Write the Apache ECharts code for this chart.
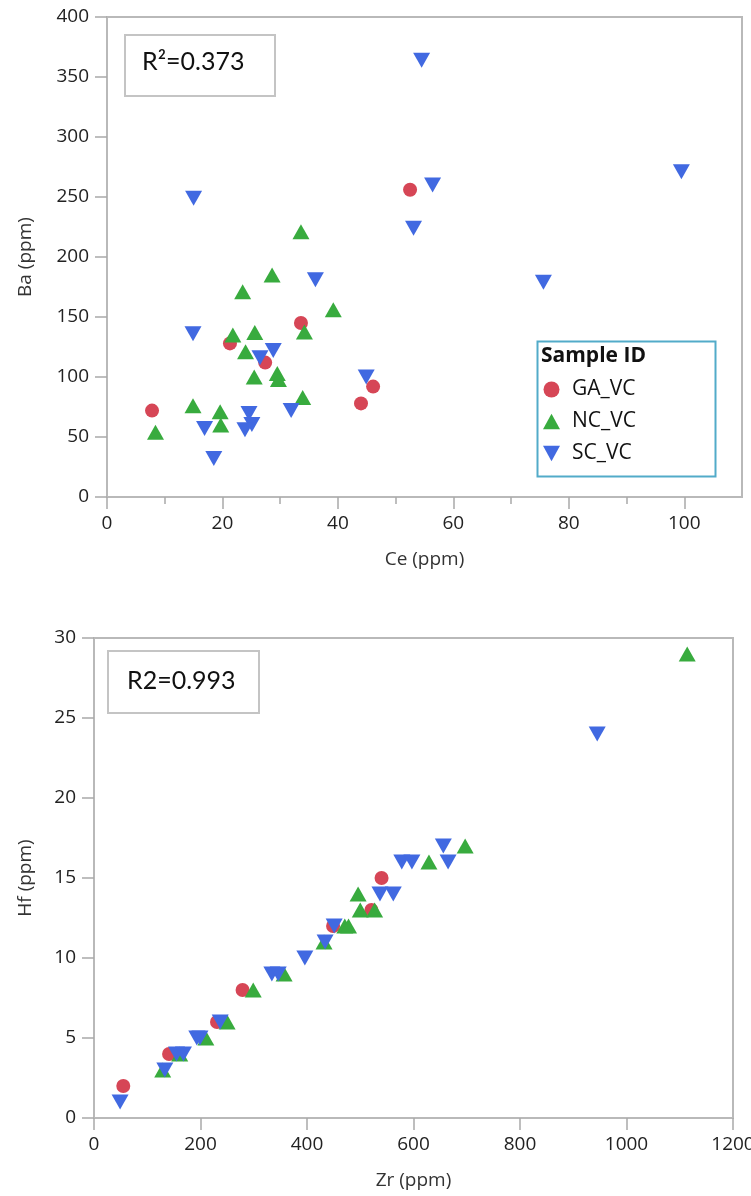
<!DOCTYPE html>
<html>
<head>
<meta charset="utf-8">
<script src="https://cdn.jsdelivr.net/npm/echarts@6/dist/echarts.min.js"></script>
<style>
  html, body { margin: 0; padding: 0; background: #ffffff; }
  #chart { width: 751px; height: 1196px; }
</style>
</head>
<body>
<div id="chart"></div>
<script>
// Sample groups
const groups = ['GA_VC', 'NC_VC', 'SC_VC'];

// Ce (ppm) vs Ba (ppm)
const gaCeBa = [[52.5,256],[33.6,145],[21.3,128],[27.4,112],[46.1,92],[44.0,78],[7.8,72]];
const ncCeBa = [[33.6,221],[28.6,185],[23.5,171],[39.2,156],[34.2,137.5],[21.8,135],[25.6,137],
                [24.0,121],[25.5,100],[29.5,103],[29.7,98],[33.9,83],[8.4,54],[14.9,76],[19.6,71],[19.7,60]];
const scCeBa = [[15.0,249],[56.4,260],[53.1,224],[36.1,181],[14.9,136],[28.8,122],[26.5,116],
                [44.9,100],[31.9,72],[16.9,57],[24.6,69.5],[25.1,60.5],[23.9,56],[18.5,32],
                [54.5,364],[99.5,271],[75.6,179]];

// Zr (ppm) vs Hf (ppm)
const gaZrHf = [[55,2],[141,4],[231,6],[279,8],[449,12],[521,13],[540,15]];
const ncZrHf = [[129,3],[161,4],[210,5],[250,6],[299,8],[357,9],[432,11],[471,12],[478,12],
                [496,14],[500,13],[527,13],[629,16],[697,17],[1114,29]];
const scZrHf = [[49,1],[133,3],[155,4],[168,4],[193,5],[199,5],[237,6],[334,9],[346,9],
                [396,10],[434,11],[451,12],[537,14],[562,14],[578,16],[597,16],[656,17],[665,16],[945,24]];

// Axis ticks
const ceMajorTicks = [0, 20, 40, 60, 80, 100];
const ceMinorTicks = [10, 30, 50, 70, 90];
const baTicks = [0, 50, 100, 150, 200, 250, 300, 350, 400];
const zrTicks = [0, 200, 400, 600, 800, 1000, 1200];
const hfTicks = [0, 5, 10, 15, 20, 25, 30];

// Fit statistics shown in each panel
const r2Top = 'R\u00B2=0.373';
const r2Bottom = 'R2=0.993';

const colors = { GA_VC: '#d64656', NC_VC: '#38ab3e', SC_VC: '#4169e1' };
const symbols = {
  GA_VC: { symbol: 'circle', symbolSize: 14 },
  NC_VC: { symbol: 'path://M5,0 L10,9 L0,9 Z', symbolSize: [17, 15] },
  SC_VC: { symbol: 'path://M0,0 L10,0 L5,9 Z', symbolSize: [17, 15] }
};

const FONT = '"Open Sans", "Noto Sans", sans-serif';
const axisGrey = '#b9b9b9';
const tickStyle = { color: '#a9a9a9', width: 1.5 };
const labelStyle = { color: '#222', fontSize: 19, fontFamily: FONT };
const nameStyle = { color: '#333', fontSize: 19, fontFamily: FONT };
const plain = v => String(v);

function valueAxis(opts) {
  return Object.assign({
    type: 'value',
    axisLine: { show: true, lineStyle: { color: axisGrey, width: 2 } },
    axisTick: { show: true, length: 12, lineStyle: tickStyle },
    splitLine: { show: false },
    nameLocation: 'middle',
    nameTextStyle: nameStyle
  }, opts);
}

function scatter(name, data, xi, yi) {
  return Object.assign({
    type: 'scatter',
    name: name,
    data: data,
    xAxisIndex: xi,
    yAxisIndex: yi,
    itemStyle: { color: colors[name], opacity: 1 },
    emphasis: { disabled: true }
  }, symbols[name]);
}

const chart = echarts.init(document.getElementById('chart'), null, { renderer: 'canvas' });

chart.setOption({
  animation: false,
  backgroundColor: '#ffffff',
  grid: [
    { left: 107, top: 17, width: 635, height: 480, show: true, borderColor: axisGrey, borderWidth: 2,
      containLabel: false, outerBoundsMode: 'none' },
    { left: 94, top: 638, width: 639, height: 480, show: true, borderColor: axisGrey, borderWidth: 2,
      containLabel: false, outerBoundsMode: 'none' }
  ],
  xAxis: [
    valueAxis({
      gridIndex: 0, min: 0, max: 110, position: 'bottom',
      name: 'Ce (ppm)', nameGap: 53,
      axisTick: { show: true, length: 12, customValues: ceMajorTicks, lineStyle: tickStyle },
      axisLabel: { customValues: ceMajorTicks, margin: 17, formatter: plain, ...labelStyle }
    }),
    valueAxis({
      gridIndex: 0, min: 0, max: 110, position: 'bottom',
      axisLine: { show: false },
      axisTick: { show: true, length: 7, customValues: ceMinorTicks, lineStyle: tickStyle },
      axisLabel: { show: false }
    }),
    valueAxis({
      gridIndex: 1, min: 0, max: 1200, interval: 200, position: 'bottom',
      name: 'Zr (ppm)', nameGap: 53,
      axisTick: { show: true, length: 12, customValues: zrTicks, lineStyle: tickStyle },
      axisLabel: { customValues: zrTicks, margin: 17, formatter: plain, ...labelStyle }
    })
  ],
  yAxis: [
    valueAxis({
      gridIndex: 0, min: 0, max: 400, interval: 50,
      name: 'Ba (ppm)', nameGap: 72,
      axisTick: { show: true, length: 12, customValues: baTicks, lineStyle: tickStyle },
      axisLabel: { customValues: baTicks, margin: 18, formatter: plain, ...labelStyle }
    }),
    valueAxis({
      gridIndex: 1, min: 0, max: 30, interval: 5,
      name: 'Hf (ppm)', nameGap: 59,
      axisTick: { show: true, length: 12, customValues: hfTicks, lineStyle: tickStyle },
      axisLabel: { customValues: hfTicks, margin: 18, formatter: plain, ...labelStyle }
    })
  ],
  legend: {
    data: groups,
    orient: 'vertical',
    left: 543,
    top: 379,
    padding: 0,
    itemWidth: 17,
    itemHeight: 16,
    itemGap: 11,
    selectedMode: false,
    textStyle: { color: '#111', fontSize: 21, fontFamily: FONT, padding: [0, 0, 0, 7] }
  },
  graphic: [
    // Legend frame and heading
    { type: 'rect', left: 535, top: 339, shape: { width: 178, height: 135 },
      style: { fill: 'none', stroke: '#52abc9', lineWidth: 2 }, z: 10 },
    { type: 'text', left: 541, top: 346,
      style: { text: 'Sample ID', fill: '#111', font: 'bold 21px ' + FONT }, z: 11 },
    // Fit statistic boxes
    { type: 'rect', left: 124, top: 34, shape: { width: 150, height: 61 },
      style: { fill: '#fff', stroke: '#c4c4c4', lineWidth: 2 }, z: 10 },
    { type: 'text', left: 142, top: 49,
      style: { text: r2Top, fill: '#111', font: '25px Lato, ' + FONT }, z: 11 },
    { type: 'rect', left: 107, top: 650, shape: { width: 151, height: 62 },
      style: { fill: '#fff', stroke: '#c4c4c4', lineWidth: 2 }, z: 10 },
    { type: 'text', left: 127, top: 668,
      style: { text: r2Bottom, fill: '#111', font: '25px Lato, ' + FONT }, z: 11 }
  ],
  series: [
    scatter('GA_VC', gaCeBa, 0, 0),
    scatter('NC_VC', ncCeBa, 0, 0),
    scatter('SC_VC', scCeBa, 0, 0),
    scatter('GA_VC', gaZrHf, 2, 1),
    scatter('NC_VC', ncZrHf, 2, 1),
    scatter('SC_VC', scZrHf, 2, 1)
  ]
});
</script>
</body>
</html>
